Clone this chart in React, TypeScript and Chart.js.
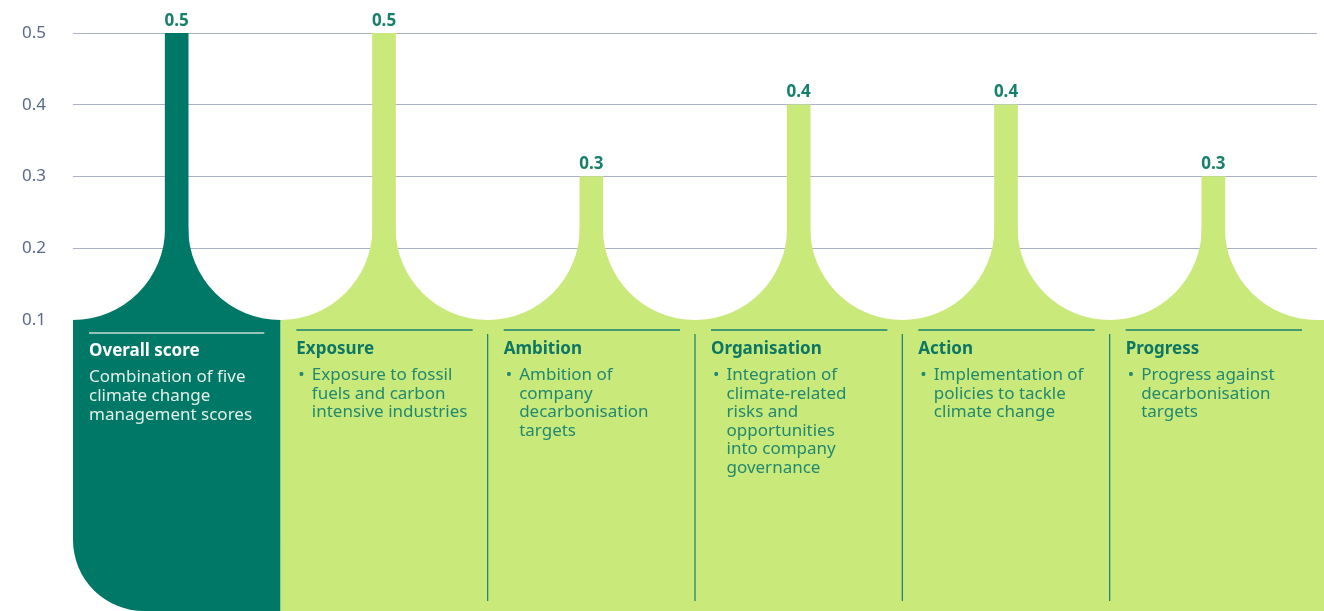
import React, { useEffect, useRef } from "react";
import { Chart, registerables } from "chart.js";

Chart.register(...registerables);

// Climate change management scores by pillar
const categories = ["Overall score", "Exposure", "Ambition", "Organisation", "Action", "Progress"];
const scores = [0.5, 0.5, 0.3, 0.4, 0.4, 0.3];
const yTicks = [0.1, 0.2, 0.3, 0.4, 0.5];
const descriptions: string[][] = [
  ["Combination of five", "climate change", "management scores"],
  ["Exposure to fossil", "fuels and carbon", "intensive industries"],
  ["Ambition of", "company", "decarbonisation", "targets"],
  ["Integration of", "climate-related", "risks and", "opportunities", "into company", "governance"],
  ["Implementation of", "policies to tackle", "climate change"],
  ["Progress against", "decarbonisation", "targets"],
];

const DARK = "#007867";
const LIGHT = "#c9e97b";
const TEAL_TEXT = "#0e7763";
const TEAL_BODY = "#22886f";
const FONT = "'Noto Sans', 'Open Sans', sans-serif";

const W = 1324;
const H = 611;

const panelPlugin = {
  id: "scorePanels",
  beforeDatasetsDraw(chart: any) {
    const { ctx, chartArea, scales } = chart;
    const yScale = scales.y;
    const base = yScale.getPixelForValue(yScale.min);
    const n = categories.length;
    const colW = (chartArea.right - chartArea.left) / n;
    const meta = chart.getDatasetMeta(0);

    ctx.save();
    // bell-shaped flares joining each bar to its panel
    for (let i = 0; i < n; i++) {
      const bar = meta.data[i];
      const hb = bar.width / 2;
      const left = bar.x - colW / 2;
      const right = bar.x + colW / 2;
      const r = colW / 2 - hb;
      ctx.fillStyle = i === 0 ? DARK : LIGHT;
      ctx.beginPath();
      ctx.moveTo(bar.x - hb, base - r);
      ctx.arc(left, base - r, r, 0, Math.PI / 2, false);
      ctx.lineTo(right, base);
      ctx.arc(right, base - r, r, Math.PI / 2, Math.PI, false);
      ctx.closePath();
      ctx.fill();
    }

    // panels below the baseline
    const b0 = meta.data[0];
    const l0 = b0.x - colW / 2;
    const r0 = b0.x + colW / 2;
    const R = 71;
    ctx.fillStyle = LIGHT;
    ctx.fillRect(r0, base, W - r0, H - base);
    ctx.fillStyle = DARK;
    ctx.beginPath();
    ctx.moveTo(l0, base);
    ctx.lineTo(r0, base);
    ctx.lineTo(r0, H);
    ctx.lineTo(l0 + R, H);
    ctx.arcTo(l0, H, l0, H - R, R);
    ctx.lineTo(l0, base);
    ctx.closePath();
    ctx.fill();
    ctx.restore();
  },
  afterDatasetsDraw(chart: any) {
    const { ctx, chartArea, scales } = chart;
    const yScale = scales.y;
    const base = yScale.getPixelForValue(yScale.min);
    const n = categories.length;
    const colW = (chartArea.right - chartArea.left) / n;
    const meta = chart.getDatasetMeta(0);

    ctx.save();
    // value labels above the bars
    ctx.font = `bold 17px ${FONT}`;
    ctx.fillStyle = "#17806d";
    ctx.textAlign = "center";
    ctx.textBaseline = "alphabetic";
    meta.data.forEach((bar: any, i: number) => {
      ctx.fillText(String(scores[i]), bar.x, bar.y - 7.5);
    });

    ctx.textAlign = "left";
    for (let i = 0; i < n; i++) {
      const bar = meta.data[i];
      const left = bar.x - colW / 2;
      const right = bar.x + colW / 2;
      const tx = left + 16;
      if (i === 0) {
        ctx.strokeStyle = "#c3dbd3";
        ctx.lineWidth = 1.5;
        ctx.beginPath();
        ctx.moveTo(tx, base + 13);
        ctx.lineTo(right - 16, base + 13);
        ctx.stroke();
        ctx.fillStyle = "#ffffff";
        ctx.font = `bold 17px ${FONT}`;
        ctx.fillText(categories[i], tx, base + 36);
        ctx.fillStyle = "#e3f0e9";
        ctx.font = `17px ${FONT}`;
        descriptions[i].forEach((line, k) => {
          ctx.fillText(line, tx, base + 62 + k * 19);
        });
      } else {
        ctx.strokeStyle = "#16806b";
        ctx.lineWidth = 1.5;
        ctx.beginPath();
        ctx.moveTo(tx, base + 10);
        ctx.lineTo(right - 15, base + 10);
        ctx.stroke();
        if (i > 1) {
          ctx.lineWidth = 1.2;
          ctx.beginPath();
          ctx.moveTo(left, base + 14);
          ctx.lineTo(left, H - 10);
          ctx.stroke();
        }
        ctx.fillStyle = TEAL_TEXT;
        ctx.font = `bold 17px ${FONT}`;
        ctx.fillText(categories[i], tx, base + 34);
        ctx.fillStyle = TEAL_BODY;
        ctx.font = `17px ${FONT}`;
        ctx.fillText("•", tx + 2, base + 60);
        descriptions[i].forEach((line, k) => {
          ctx.fillText(line, tx + 15.5, base + 60 + k * 18.6);
        });
      }
    }
    ctx.restore();
  },
};

export default function App() {
  const canvasRef = useRef<HTMLCanvasElement | null>(null);

  useEffect(() => {
    const canvas = canvasRef.current;
    if (!canvas) return;
    const chart = new Chart(canvas, {
      type: "bar",
      data: {
        labels: categories,
        datasets: [
          {
            data: scores,
            backgroundColor: scores.map((_, i) => (i === 0 ? DARK : LIGHT)),
            borderWidth: 0,
            barThickness: 23,
            categoryPercentage: 1,
          },
        ],
      },
      options: {
        responsive: false,
        animation: false,
        layout: { padding: { top: 33, right: 7, bottom: 291, left: 0 } },
        plugins: { legend: { display: false }, tooltip: { enabled: false } },
        scales: {
          x: { display: false },
          y: {
            min: 0.1,
            max: 0.5,
            afterFit(scale: any) {
              // fixed axis gutter; keep the label padding from pushing the plot down
              scale.width = 73;
              scale.paddingTop = 10;
              scale.paddingBottom = 10;
            },
            afterBuildTicks(scale: any) {
              scale.ticks = yTicks.map((v) => ({ value: v }));
            },
            border: { display: false },
            grid: { color: "#a8b4c6", lineWidth: 1, drawTicks: false },
            ticks: {
              padding: 27,
              color: "#596a8a",
              font: { family: FONT, size: 17 },
              callback: (v: any) => Number(v).toFixed(1),
            },
          },
        },
      },
      plugins: [panelPlugin],
    });
    return () => chart.destroy();
  }, []);

  return (
    <div style={{ position: "fixed", left: 0, top: 0, width: W, height: H, background: "#ffffff" }}>
      <canvas ref={canvasRef} width={W} height={H} style={{ display: "block" }} />
    </div>
  );
}
